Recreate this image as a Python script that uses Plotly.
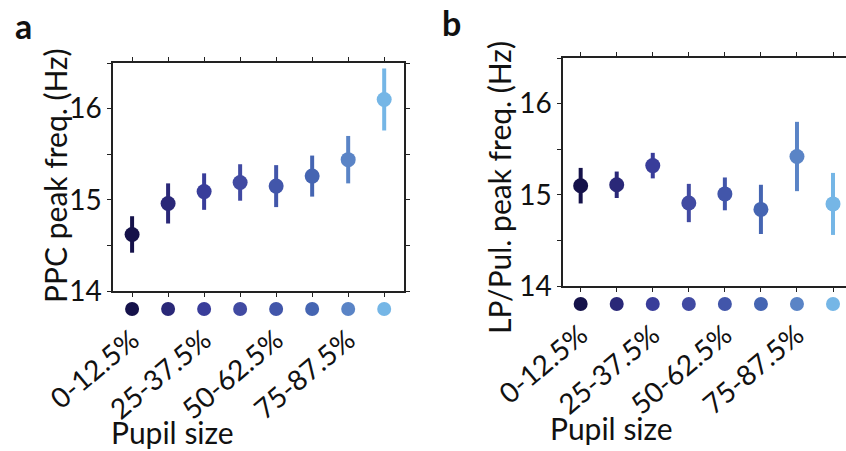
import plotly.graph_objects as go

categories = ["0-12.5%", "12.5-25%", "25-37.5%", "37.5-50%",
              "50-62.5%", "62.5-75%", "75-87.5%", "87.5-100%"]
colors = ["#15124a", "#2a2878", "#393d9a", "#414aa2",
          "#4256aa", "#4565b2", "#5a84c6", "#75b6e6"]

ppc_mean = [14.62, 14.96, 15.09, 15.19, 15.15, 15.26, 15.44, 16.10]
ppc_err = [0.20, 0.22, 0.20, 0.20, 0.23, 0.225, 0.26, 0.34]

lp_mean = [15.10, 15.11, 15.32, 14.91, 15.01, 14.84, 15.42, 14.90]
lp_err = [0.195, 0.145, 0.14, 0.21, 0.18, 0.27, 0.38, 0.34]

y_ticks = [14, 15, 16]
label_idx = [0, 2, 4, 6]

FONT = "Lato"
TXT = "#111111"
W, H = 846, 451

fig = go.Figure()
xs = list(range(len(categories)))

panels = [
    dict(means=ppc_mean, errs=ppc_err, x="x", y="y", ydot="y3"),
    dict(means=lp_mean, errs=lp_err, x="x2", y="y2", ydot="y4"),
]
for p in panels:
    for i in xs:
        fig.add_trace(go.Scatter(
            x=[i], y=[p["means"][i]], mode="markers",
            marker=dict(size=15, color=colors[i]),
            error_y=dict(type="data", array=[p["errs"][i]], thickness=4,
                         width=0, color=colors[i]),
            xaxis=p["x"], yaxis=p["y"], showlegend=False, hoverinfo="skip"))
    # coloured dot row under the axis
    fig.add_trace(go.Scatter(
        x=xs, y=[0.5] * len(xs), mode="markers",
        marker=dict(size=14, color=colors), cliponaxis=False,
        xaxis=p["x"], yaxis=p["ydot"], showlegend=False, hoverinfo="skip"))

common_x = dict(
    tickmode="array", tickvals=label_idx,
    ticktext=[categories[i] for i in label_idx],
    tickangle=-40, ticks="", showline=True, linecolor="#222", linewidth=1.5,
    mirror="ticks", showgrid=False, zeroline=False, automargin=False,
    ticklabelstandoff=20,
    tickfont=dict(family=FONT, size=28, color=TXT),
    minor=dict(tickvals=xs, ticks="outside", ticklen=4, tickwidth=1.2,
               tickcolor="#222", showgrid=False),
)
common_y = dict(
    range=[14, 16.5], tickvals=y_ticks, ticks="outside", ticklen=4,
    tickwidth=1.2, tickcolor="#222", showline=True, linecolor="#222",
    linewidth=1.5, showgrid=False, zeroline=False, automargin=False,
    tickfont=dict(family=FONT, size=28, color=TXT),
    minor=dict(dtick=0.5, ticks="outside", ticklen=4, tickwidth=1.2,
               tickcolor="#222", showgrid=False),
)
dot_y = dict(range=[0, 1], visible=False, fixedrange=True)

fig.update_layout(
    width=W, height=H, margin=dict(l=0, r=0, t=0, b=0),
    paper_bgcolor="white", plot_bgcolor="white",
    xaxis=dict(common_x, domain=[113 / W, 404 / W], range=[-0.53, 7.55],
               anchor="y"),
    yaxis=dict(common_y, domain=[1 - 291 / H, 1 - 63 / H], anchor="x",
               mirror="ticks"),
    xaxis2=dict(common_x, domain=[563 / W, 1.0], range=[-0.49, 7.36],
                anchor="y2"),
    yaxis2=dict(common_y, domain=[1 - 286 / H, 1 - 58 / H], anchor="x2",
                mirror=False),
    yaxis3=dict(dot_y, domain=[1 - 319 / H, 1 - 299 / H], anchor="x"),
    yaxis4=dict(dot_y, domain=[1 - 314 / H, 1 - 294 / H], anchor="x2"),
)

annos = [
    dict(text="<b>a</b>", x=23, y=26, size=34),
    dict(text="<b>b</b>", x=451, y=22, size=34),
    dict(text="PPC peak freq. (Hz)", x=55, y=176, size=30, angle=-90),
    dict(text="LP/Pul. peak freq. (Hz)", x=499, y=188, size=30, angle=-90),
    dict(text="Pupil size", x=172, y=432, size=30),
    dict(text="Pupil size", x=611, y=428, size=30),
]
for a in annos:
    fig.add_annotation(
        text=a["text"], x=a["x"] / W, y=1 - a["y"] / H,
        xref="paper", yref="paper", showarrow=False,
        xanchor="center", yanchor="middle", textangle=a.get("angle", 0),
        font=dict(family=FONT, size=a["size"], color=TXT))

fig.write_html("out.html")
